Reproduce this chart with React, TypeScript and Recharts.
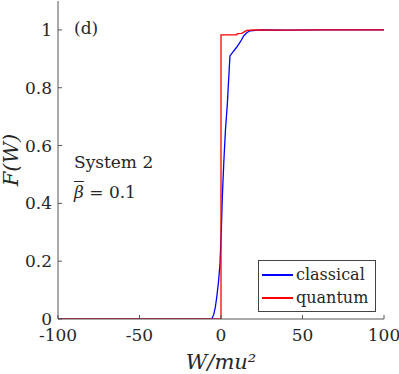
import React from 'react'
import { Line, LineChart, XAxis, YAxis, Label } from 'recharts'

// W/mu^2 values and cumulative F(W)
const classicalW = [-100, -6, -5.5, -4.5, -3.5, -2.6, -1.5, -0.6, 0.2, 0.8, 1.7, 2.7, 3.9, 4.6, 5.5, 7.5, 9.6, 12, 14, 15.8, 17.8, 25, 40, 60, 100]
const classicalF = [0, 0, 0.002, 0.015, 0.04, 0.076, 0.13, 0.193, 0.307, 0.42, 0.54, 0.65, 0.745, 0.82, 0.91, 0.925, 0.94, 0.96, 0.98, 0.99, 0.997, 1, 0.999, 1, 1]
const quantumW = [-100, 0, 0, 9.6, 10, 12.7, 15.8, 20, 40, 60, 100]
const quantumF = [0, 0, 0.983, 0.983, 0.987, 0.988, 0.998, 1, 0.999, 1, 1]

const xTicks = [-100, -50, 0, 50, 100]
const yTicks = [0, 0.2, 0.4, 0.6, 0.8, 1]
const seriesNames = ['classical', 'quantum']
const seriesColors = ['#0000ff', '#ff0000']

const classical = classicalW.map((w, i) => ({ w, F: classicalF[i] }))
const quantum = quantumW.map((w, i) => ({ w, F: quantumF[i] }))

const FONT = '"DejaVu Serif", serif'
const AXIS = '#555'
const TXT = '#262626'
const tickStyle = { fontSize: 17, fill: TXT, fontFamily: FONT }

const LegendBox = () => (
  <div style={{ position: 'absolute', left: 258, top: 260, border: '1px solid #444', background: '#fff', width: 118, height: 52, boxSizing: 'border-box', fontFamily: FONT, fontSize: 16, color: TXT, lineHeight: '22px' }}>
    {seriesNames.map((name, i) => (
      <div key={name} style={{ display: 'flex', alignItems: 'center', height: 23, marginTop: i == 0 ? 2 : 0 }}>
        <div style={{ width: 31, height: 2, background: seriesColors[i], marginLeft: 3, marginRight: 3 }} />
        <span>{name}</span>
      </div>
    ))}
  </div>
)

export default function App() {
  return (
    <div style={{ position: 'absolute', left: 0, top: 0, width: 399, height: 374, background: '#fff', fontFamily: FONT }}>
      <LineChart width={399} height={374} margin={{ top: 1, right: 15, left: 0, bottom: 0 }}>
        <XAxis dataKey="w" type="number" domain={[-100, 100]} ticks={xTicks} allowDataOverflow
          height={55} tickSize={-4} tickMargin={14} stroke={AXIS} tick={tickStyle} interval={0}>
          <Label value="W/mu²" position="insideBottom" offset={5}
            style={{ fontSize: 21, fontStyle: 'italic', fill: TXT, fontFamily: FONT }} />
        </XAxis>
        <XAxis xAxisId="top" orientation="top" type="number" domain={[-100, 100]} ticks={xTicks}
          height={0} tickSize={-4} tickFormatter={() => ''} stroke={AXIS} />
        <YAxis type="number" domain={[0, 1.1]} ticks={yTicks} allowDataOverflow width={58}
          tickSize={-4} tickMargin={10} stroke={AXIS} tick={tickStyle} interval={0}>
          <Label value="F(W)" angle={-90} position="insideLeft" offset={0} dx={11}
            style={{ fontSize: 21, fontStyle: 'italic', fill: TXT, fontFamily: FONT, textAnchor: 'middle' }} />
        </YAxis>
        <YAxis yAxisId="right" orientation="right" type="number" domain={[0, 1.1]} ticks={yTicks}
          width={0} tickSize={-4} tickFormatter={() => ''} stroke={AXIS} />
        <Line data={classical} dataKey="F" name="classical" stroke={seriesColors[0]} strokeWidth={1.3}
          dot={false} type="linear" isAnimationActive={false} />
        <Line data={quantum} dataKey="F" name="quantum" stroke={seriesColors[1]} strokeWidth={1.3}
          dot={false} type="linear" isAnimationActive={false} />
      </LineChart>
      <LegendBox />
      <div style={{ position: 'absolute', left: 74, top: 18, fontSize: 17, color: TXT }}>(d)</div>
      <div style={{ position: 'absolute', left: 74, top: 147, fontSize: 17, color: TXT, lineHeight: '30px' }}>
        <div>System 2</div>
        <div><i style={{ textDecoration: 'overline' }}>β</i> = 0.1</div>
      </div>
    </div>
  )
}
